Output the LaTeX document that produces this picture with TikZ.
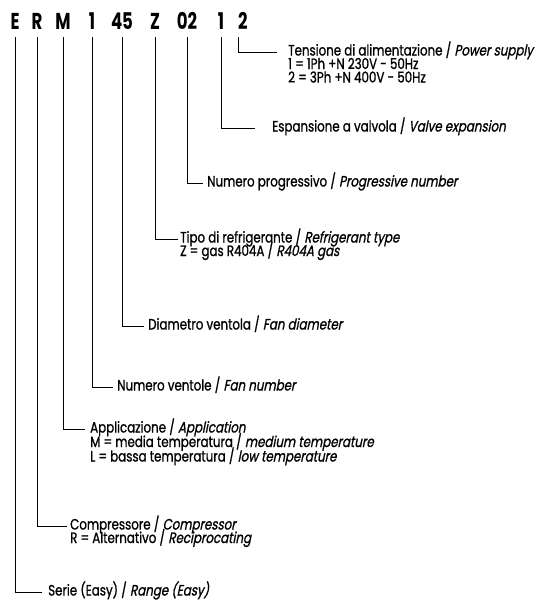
\documentclass[tikz,border=0pt]{standalone}
\usepackage{fontspec}
\setmainfont{Poppins}[FakeStretch=0.79, FakeBold=1.0, ItalicFont=Poppins, ItalicFeatures={FakeSlant=0.2}]
\newfontfamily\codefont{Poppins}[FakeStretch=0.72]
\begin{document}
\begin{tikzpicture}[x=1pt,y=-1pt,
  code/.style={font=\codefont\bfseries\fontsize{23}{23}\selectfont, inner xsep=0pt, inner ysep=0pt, outer ysep=8pt, anchor=base},
  lab/.style={font=\fontsize{15}{14}\selectfont, inner sep=0pt, anchor=west, text height=0.7em, text depth=0pt},
  sub/.style={font=\fontsize{15}{14}\selectfont, inner sep=0pt, anchor=base west},
  conn/.style={draw=black, line width=0.9pt}]
\useasboundingbox (0,0) rectangle (541,606);
% code letters
\node[code] (cE) at (15,29) {E};
\node[code] (cR) at (37,29) {R};
\node[code] (cM) at (63,29) {M};
\node[code] (cN) at (92,29) {1};
\node[code] (cD) at (122,29) {45};
\node[code] (cZ) at (155,29) {Z};
\node[code] (cP) at (187,29) {02};
\node[code] (cV) at (221,29) {1};
\node[code,anchor=base west] (cT) at (238,29) {2};
% labels
\node[lab] (lT) at (288,52) {Tensione di alimentazione / \textit{Power supply}};
\node[sub] (lT2) at ([yshift=-13.5pt]lT.base west) {1 = 1Ph +N 230V - 50Hz};
\node[sub] (lT3) at ([yshift=-13.5pt]lT2.base west) {2 = 3Ph +N 400V - 50Hz};
\node[lab] (lV) at (272,128) {Espansione a valvola / \textit{Valve expansion}};
\node[lab] (lP) at (207,183) {Numero progressivo / \textit{Progressive number}};
\node[lab] (lZ) at (180,239) {Tipo di refrigerante / \textit{Refrigerant type}};
\node[sub] (lZ2) at ([yshift=-13.5pt]lZ.base west) {Z = gas R404A / \textit{R404A gas}};
\node[lab] (lD) at (148,326) {Diametro ventola / \textit{Fan diameter}};
\node[lab] (lN) at (117,387) {Numero ventole / \textit{Fan number}};
\node[lab] (lM) at (90,429) {Applicazione / \textit{Application}};
\node[sub] (lM2) at ([yshift=-14.5pt]lM.base west) {M = media temperatura / \textit{medium temperature}};
\node[sub] (lM3) at ([yshift=-14.5pt]lM2.base west) {L = bassa temperatura / \textit{low temperature}};
\node[lab] (lR) at (70,526) {Compressore / \textit{Compressor}};
\node[sub] (lR2) at ([yshift=-13.5pt]lR.base west) {R = Alternativo / \textit{Reciprocating}};
\node[lab] (lE) at (48,592) {Serie (Easy) / \textit{Range (Easy)}};
% connectors
\draw[conn] (cT.south west) |- ([xshift=-11pt]lT.west);
\draw[conn] (cV.south) |- ([xshift=-17pt]lV.west);
\draw[conn] (cP.south) |- ([xshift=-4pt]lP.west);
\draw[conn] (cZ.south) |- ([xshift=-2pt]lZ.west);
\draw[conn] (cD.south) |- ([xshift=-4pt]lD.west);
\draw[conn] (cN.south) |- ([xshift=-4pt]lN.west);
\draw[conn] (cM.south) |- ([xshift=-5pt]lM.west);
\draw[conn] (cR.south) |- ([xshift=-3pt]lR.west);
\draw[conn] (cE.south) |- ([xshift=-6pt]lE.west);
\end{tikzpicture}
\end{document}
